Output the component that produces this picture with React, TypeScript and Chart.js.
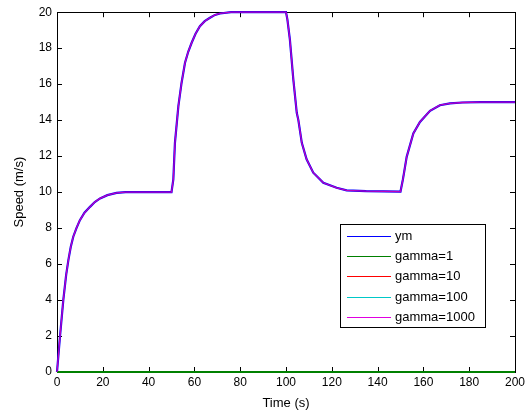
import React, { useEffect, useRef } from "react";
import { Chart, registerables } from "chart.js";

Chart.register(...registerables);

const FONT = "'Liberation Sans', Arial, Helvetica, sans-serif";

const xTickValues = [0, 20, 40, 60, 80, 100, 120, 140, 160, 180, 200];
const yTickValues = [0, 2, 4, 6, 8, 10, 12, 14, 16, 18, 20];

const ymTime = [
  0, 1.3, 2.75, 4, 5, 6, 7.1, 8.5, 10, 12, 14.4, 16.5, 18.8, 22, 26, 30, 40, 50,
  50.8, 51.5, 53, 54.4, 55.9, 57.3, 58.8, 60.5, 62.4, 64.5, 66.8, 69, 71.2, 76, 80, 90, 100,
  100.6, 101.7, 103.2, 104.7, 105.4, 106.9, 109, 111.9, 116.3, 122.1, 126.5, 135, 150,
  151, 151.5, 152.7, 155.6, 158.5, 162.9, 167.2, 171.6, 177, 185, 200,
];
const ymSpeed = [
  0, 1.96, 4.0, 5.4, 6.25, 6.95, 7.52, 8.0, 8.44, 8.85, 9.18, 9.45, 9.65, 9.83, 9.96, 10.0, 10.0, 10.0,
  10.7, 12.74, 14.78, 16.08, 17.19, 17.8, 18.3, 18.8, 19.22, 19.5, 19.69, 19.85, 19.93, 20, 20, 20, 20,
  19.6, 18.48, 16.26, 14.41, 14.0, 12.74, 11.82, 11.08, 10.52, 10.24, 10.1, 10.05, 10.03,
  10.67, 11.04, 11.96, 13.26, 13.9, 14.52, 14.83, 14.93, 14.98, 15, 15,
];

// gamma=1000 overlaps ym in the picture
const gamma1000Time = ymTime;
const gamma1000Speed = ymSpeed;

// gamma=1, 10, 100 lie on the zero line
const gamma1Time = [0, 200];
const gamma1Speed = [0, 0];
const gamma10Time = [0, 200];
const gamma10Speed = [0, 0];
const gamma100Time = [0, 200];
const gamma100Speed = [0, 0];

const seriesLabels = ["ym", "gamma=1", "gamma=10", "gamma=100", "gamma=1000"];
const seriesColors = ["#0000ff", "#008000", "#ff0000", "#00bfbf", "#bf00bf"];
const legendColors = ["#0000ff", "#008000", "#ff0000", "#00c8c8", "#e000e0"];

const toPoints = (t: number[], v: number[]) => t.map((x, i) => ({ x, y: v[i] }));

const framePlugin = {
  id: "matlabFrame",
  beforeDatasetsDraw(chart: any) {
    const { ctx, chartArea: a, scales } = chart;
    ctx.save();
    ctx.strokeStyle = "#000";
    ctx.lineWidth = 1;
    ctx.strokeRect(Math.round(a.left) + 0.5, Math.round(a.top) + 0.5, Math.round(a.right - a.left), Math.round(a.bottom - a.top));
    const tl = 5;
    ctx.beginPath();
    xTickValues.forEach((v) => {
      const px = Math.round(scales.x.getPixelForValue(v)) + 0.5;
      ctx.moveTo(px, a.bottom);
      ctx.lineTo(px, a.bottom - tl);
      ctx.moveTo(px, a.top);
      ctx.lineTo(px, a.top + tl);
    });
    yTickValues.forEach((v) => {
      const py = Math.round(scales.y.getPixelForValue(v)) + 0.5;
      ctx.moveTo(a.left, py);
      ctx.lineTo(a.left + tl, py);
      ctx.moveTo(a.right, py);
      ctx.lineTo(a.right - tl, py);
    });
    ctx.stroke();
    ctx.restore();
  },
  afterDraw(chart: any) {
    const { ctx, chartArea: a } = chart;
    const w = 145;
    const h = 103;
    const x0 = Math.round(a.right - 30 - w);
    const y0 = Math.round(a.bottom - 45 - h);
    ctx.save();
    ctx.fillStyle = "#fff";
    ctx.fillRect(x0, y0, w, h);
    ctx.strokeStyle = "#000";
    ctx.lineWidth = 1;
    ctx.strokeRect(x0 + 0.5, y0 + 0.5, w, h);
    ctx.font = `13px ${FONT}`;
    ctx.textBaseline = "middle";
    ctx.textAlign = "left";
    seriesLabels.forEach((label, i) => {
      const cy = Math.round(y0 + 12 + i * 20.2) + 0.5;
      ctx.strokeStyle = legendColors[i];
      ctx.lineWidth = 1;
      ctx.beginPath();
      ctx.moveTo(x0 + 7, cy);
      ctx.lineTo(x0 + 51, cy);
      ctx.stroke();
      ctx.fillStyle = "#000";
      ctx.fillText(label, x0 + 55, cy);
    });
    ctx.restore();
  },
};

export default function App() {
  const ref = useRef<HTMLCanvasElement | null>(null);

  useEffect(() => {
    document.body.style.margin = "0";
    if (!ref.current) return;
    const times = [ymTime, gamma1Time, gamma10Time, gamma100Time, gamma1000Time];
    const speeds = [ymSpeed, gamma1Speed, gamma10Speed, gamma100Speed, gamma1000Speed];
    const orders = [5, 2, 3, 4, 1];
    const widths = [2.2, 2, 1.5, 1.5, 1.3];
    const chart = new Chart(ref.current, {
      type: "scatter",
      data: {
        datasets: seriesLabels.map((label, i) => ({
          label,
          data: toPoints(times[i], speeds[i]),
          borderColor: seriesColors[i],
          backgroundColor: seriesColors[i],
          showLine: true,
          pointRadius: 0,
          borderWidth: widths[i],
          order: orders[i],
          clip: 3,
        })),
      },
      options: {
        responsive: false,
        animation: false,
        events: [],
        layout: { padding: { top: 12, right: 15, left: 0, bottom: 0 } },
        plugins: { legend: { display: false }, tooltip: { enabled: false } },
        scales: {
          x: {
            type: "linear",
            min: 0,
            max: 200,
            afterBuildTicks: (s: any) => {
              s.ticks = xTickValues.map((v) => ({ value: v }));
            },
            afterFit: (s: any) => {
              s.height = 41;
            },
            grid: { display: false, drawTicks: false },
            border: { display: false },
            ticks: { padding: 3, color: "#000", font: { family: FONT, size: 12 }, maxRotation: 0, autoSkip: false },
            title: { display: true, text: "Time (s)", color: "#000", font: { family: FONT, size: 13 }, padding: { top: 0, bottom: 2 } },
          },
          y: {
            type: "linear",
            min: 0,
            max: 20,
            afterBuildTicks: (s: any) => {
              s.ticks = yTickValues.map((v) => ({ value: v }));
            },
            afterFit: (s: any) => {
              s.width = 57;
            },
            grid: { display: false, drawTicks: false },
            border: { display: false },
            ticks: { padding: 5, color: "#000", font: { family: FONT, size: 12 }, autoSkip: false },
            title: { display: true, text: "Speed (m/s)", color: "#000", font: { family: FONT, size: 13 }, padding: { top: 12, bottom: 0 } },
          },
        },
      },
      plugins: [framePlugin],
    });
    return () => chart.destroy();
  }, []);

  return (
    <div style={{ width: 530, height: 413 }}>
      <canvas ref={ref} width={530} height={413} />
    </div>
  );
}
